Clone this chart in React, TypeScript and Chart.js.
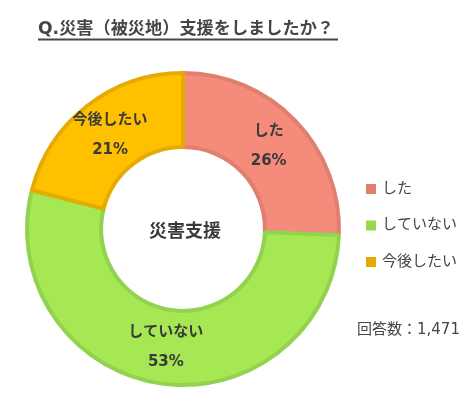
import React, { useEffect, useRef } from "react";
import { Chart, registerables } from "chart.js";

Chart.register(...registerables);

const titleText = "Q.災害（被災地）支援をしましたか？";
const centerText = "災害支援";
const categories = ["した", "していない", "今後したい"];
const values = [25.6, 53.4, 21.0];
const respondents = 1471;

const fillColors = ["#f58b7b", "#a5e853", "#ffc000"];
const borderColors = ["#e07e70", "#93d24e", "#e6ab00"];
const legendColors = ["#e07e70", "#99d84d", "#e5ac00"];

const FONT = "'DejaVu Sans', 'Noto Sans CJK JP', sans-serif";

const overlayPlugin = {
  id: "overlay",
  afterDraw(chart: any) {
    const ctx = chart.ctx as CanvasRenderingContext2D;
    const meta = chart.getDatasetMeta(0);
    ctx.save();
    // title
    ctx.fillStyle = "#464646";
    ctx.font = `bold 17px ${FONT}`;
    ctx.textAlign = "left";
    ctx.textBaseline = "middle";
    const tw = ctx.measureText(titleText).width;
    const targetW = 296;
    ctx.save();
    ctx.translate(38, 30);
    ctx.scale(targetW / tw, 1);
    ctx.fillText(titleText, 0, 0);
    ctx.restore();
    ctx.fillStyle = "#464646";
    ctx.fillRect(38, 38.5, 300, 2);

    // slice labels
    ctx.fillStyle = "#3a3a3a";
    ctx.font = `bold 15px ${FONT}`;
    ctx.textAlign = "center";
    meta.data.forEach((arc: any, i: number) => {
      const p = arc.tooltipPosition();
      ctx.fillText(categories[i], p.x, p.y - 15);
      ctx.fillText(Math.round(values[i]) + "%", p.x, p.y + 15);
    });

    // center text
    const a0 = meta.data[0];
    ctx.font = `bold 18px ${FONT}`;
    ctx.fillStyle = "#3a3a3a";
    ctx.fillText(centerText, a0.x + 2, a0.y + 3);

    // legend
    ctx.textAlign = "left";
    ctx.font = `15px ${FONT}`;
    categories.forEach((c, i) => {
      const y = 189 + i * 36.5;
      ctx.fillStyle = legendColors[i];
      ctx.fillRect(366, y - 5, 10, 10);
      ctx.fillStyle = "#444";
      ctx.fillText(c, 382, y);
    });

    // respondents
    ctx.fillStyle = "#444";
    ctx.font = `15px ${FONT}`;
    ctx.fillText("回答数：" + respondents.toLocaleString("en-US"), 357, 330);
    ctx.restore();
  },
};

export default function App() {
  const ref = useRef<HTMLCanvasElement | null>(null);
  useEffect(() => {
    if (!ref.current) return;
    const chart = new Chart(ref.current, {
      type: "doughnut",
      data: {
        labels: categories,
        datasets: [
          {
            data: values,
            backgroundColor: fillColors,
            borderColor: borderColors,
            borderWidth: 4,
            hoverBorderWidth: 4,
          },
        ],
      },
      options: {
        responsive: false,
        animation: false,
        cutout: "52.5%",
        layout: { padding: { left: 25, right: 130, top: 71, bottom: 12 } },
        plugins: {
          legend: { display: false },
          tooltip: { enabled: false },
          title: { display: false },
        },
        events: [],
      },
      plugins: [overlayPlugin],
    });
    return () => chart.destroy();
  }, []);
  return (
    <div style={{ position: "absolute", left: 0, top: 0, width: 471, height: 399, background: "#fff" }}>
      <canvas ref={ref} width={471} height={399} style={{ width: 471, height: 399 }} />
    </div>
  );
}
